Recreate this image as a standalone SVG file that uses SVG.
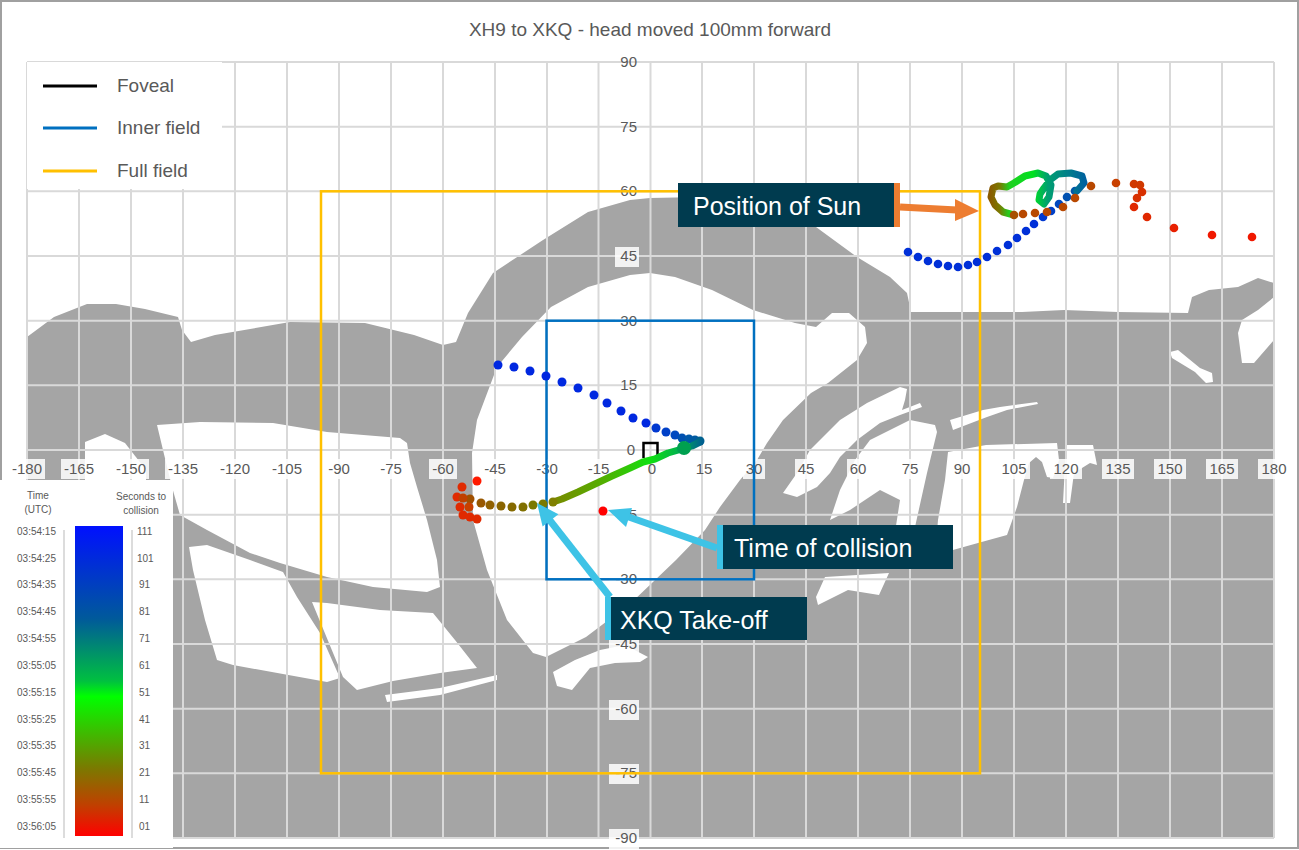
<svg xmlns="http://www.w3.org/2000/svg" width="1299" height="850" viewBox="0 0 1299 850">
<defs>
<style>
.g{stroke:#d9d9d9;stroke-width:2}
.ax{font-family:"Liberation Sans",Arial,sans-serif;font-size:15px;fill:#595959}
.lb{fill:#ffffff;opacity:0.85}
.lg{font-family:"Liberation Sans",Arial,sans-serif;font-size:19px;fill:#595959}
.co{font-family:"Liberation Sans",Arial,sans-serif;font-size:25px;fill:#ffffff}
.sm{font-family:"Liberation Sans",Arial,sans-serif;font-size:10px;fill:#595959}
.w{fill:#ffffff}
.bd{fill:#0028e0}
</style>
<linearGradient id="bar" x1="0" y1="0" x2="0" y2="1">
<stop offset="0" stop-color="#0010ff"/><stop offset="0.3" stop-color="#005a9a"/><stop offset="0.5" stop-color="#00c040"/><stop offset="0.55" stop-color="#00ff00"/><stop offset="0.78" stop-color="#7a7a00"/><stop offset="0.9" stop-color="#c04000"/><stop offset="1" stop-color="#ff0000"/>
</linearGradient>
<linearGradient id="tr1" gradientUnits="userSpaceOnUse" x1="553" y1="0" x2="702" y2="0">
<stop offset="0" stop-color="#7a8a00"/><stop offset="0.35" stop-color="#50b000"/><stop offset="0.65" stop-color="#10e010"/><stop offset="0.85" stop-color="#00b050"/><stop offset="1" stop-color="#006090"/>
</linearGradient>
<linearGradient id="tr2" gradientUnits="userSpaceOnUse" x1="990" y1="0" x2="1086" y2="0">
<stop offset="0" stop-color="#8a5a00"/><stop offset="0.1" stop-color="#7a7a00"/><stop offset="0.2" stop-color="#20d020"/><stop offset="0.45" stop-color="#00e020"/><stop offset="0.6" stop-color="#00a070"/><stop offset="1" stop-color="#0060a0"/>
</linearGradient>
</defs>
<rect x="0" y="0" width="1299" height="850" fill="#ffffff"/>
<rect x="1" y="1" width="1297" height="847" fill="none" stroke="#a0a0a0" stroke-width="2"/>
<g id="terrain">
<path fill="#a5a5a5" d="M27,337 L54,317 L87,304 L116,304 L145,309 L178,317 L182,330 L191,342 L215,335 L290,322 L365,323 L414,335 L443,345 L456,342 L468,313 L493,273 L543,240 L588,212 L630,200 L650,198 L700,197 L774,213 L816,227 L857,257 L890,277 L907,293 L911,312 L1022,312 L1064,310 L1118,312 L1188,313 L1192,297 L1209,290 L1238,287 L1258,278 L1274,283 L1274,838 L27,838 Z"/>
<path class="w" d="M477,420 L497,367 L522,337 L551,307 L588,287 L630,275 L650,273 L675,277 L712,290 L753,310 L795,323 L816,327 L832,313 L849,313 L865,327 L867,343 L857,360 L828,383 L811,393 L783,420 L767,443 L757,460 L740,480 L720,507 L705,530 L676,560 L631,603 L586,637 L546,657 L533,653 L507,620 L487,570 L473,520 L472,453 Z"/>
<path class="w" d="M157,425 L200,422 L273,423 L327,432 L400,438 L407,443 L410,463 L417,487 L427,520 L437,560 L440,587 L427,592 L373,587 L327,577 L280,563 L250,553 L207,530 L180,515 L172,487 L163,450 Z"/>
<path class="w" d="M85,442 L105,434 L125,443 L146,470 L146,480 L85,480 Z"/>
<path class="w" d="M189,547 L207,545 L250,560 L283,572 L297,597 L320,633 L340,678 L327,682 L233,665 L217,660 L205,620 L193,570 Z"/>
<path class="w" d="M312,602 L327,603 L380,610 L433,613 L455,640 L477,668 L440,673 L393,681 L357,690 L343,677 Z"/>
<path class="w" d="M385,695 L440,688 L497,675 L497,680 L440,695 L387,702 Z"/>
<path class="w" d="M553,672 L575,660 L600,650 L625,645 L648,657 L640,662 L615,663 L590,668 L572,690 L557,686 Z"/>
<path class="w" d="M810,450 L840,420 L867,403 L900,387 L907,389 L905,400 L902,410 L920,403 L922,407 L900,415 L880,423 L857,440 L840,457 L830,473 L817,487 L797,497 L783,493 L797,473 Z"/>
<path class="w" d="M870,440 L910,420 L935,425 L937,432 L927,473 L915,527 L905,555 L893,545 L900,500 L880,490 L850,510 L830,520 L840,490 L855,460 Z"/>
<path class="w" d="M948,452 L986,445 L1057,443 L1059,460 L1053,478 L1047,477 L1042,462 L1036,457 L1029,463 L1024,480 L1017,507 L1007,535 L978,543 L935,555 L938,520 L945,480 Z"/>
<path class="w" d="M1066,445 L1093,445 L1097,465 L1090,463 L1074,473 L1070,503 L1063,503 L1065,465 Z"/>
<path class="w" d="M950,420 L983,410 L1000,407 L1037,402 L1038,404 L1007,410 L987,417 L953,430 Z"/>
<path class="w" d="M825,577 L889,573 L879,595 L848,590 L818,605 L816,597 Z"/>
<path class="w" d="M1170,352 L1178,350 L1200,368 L1212,373 L1213,382 L1206,383 L1195,372 L1172,358 Z"/>
<path class="w" d="M1274,297 L1258,310 L1242,320 L1238,333 L1242,363 L1254,363 L1274,340 Z"/>
</g>
<g id="grid">
<path class="g" fill="none" d="M27,62V838 M79,62V838 M131,62V838 M183,62V838 M235,62V838 M287,62V838 M339,62V838 M391,62V838 M443,62V838 M495,62V838 M547,62V838 M598.5,62V838 M650.5,62V838 M702,62V838 M754,62V838 M806,62V838 M858,62V838 M910,62V838 M962,62V838 M1014,62V838 M1066,62V838 M1118,62V838 M1170,62V838 M1222,62V838 M1274,62V838 M27,62H1274 M27,126.7H1274 M27,191.3H1274 M27,256H1274 M27,320.7H1274 M27,385.3H1274 M27,450H1274 M27,514.7H1274 M27,579.3H1274 M27,644H1274 M27,708.7H1274 M27,773.3H1274 M27,838H1274"/>
</g>
<g id="xlabels" class="ax" text-anchor="middle">
<rect class="lb" x="9" y="459" width="36" height="20"/><text x="27" y="474">-180</text>
<rect class="lb" x="61" y="459" width="36" height="20"/><text x="79" y="474">-165</text>
<rect class="lb" x="113" y="459" width="36" height="20"/><text x="131" y="474">-150</text>
<rect class="lb" x="165" y="459" width="36" height="20"/><text x="183" y="474">-135</text>
<rect class="lb" x="217" y="459" width="36" height="20"/><text x="235" y="474">-120</text>
<rect class="lb" x="269" y="459" width="36" height="20"/><text x="287" y="474">-105</text>
<rect class="lb" x="325" y="459" width="28" height="20"/><text x="339" y="474">-90</text>
<rect class="lb" x="377" y="459" width="28" height="20"/><text x="391" y="474">-75</text>
<rect class="lb" x="429" y="459" width="28" height="20"/><text x="443" y="474">-60</text>
<rect class="lb" x="481" y="459" width="28" height="20"/><text x="495" y="474">-45</text>
<rect class="lb" x="533" y="459" width="28" height="20"/><text x="547" y="474">-30</text>
<rect class="lb" x="585" y="459" width="28" height="20"/><text x="598.5" y="474">-15</text>
<text x="652" y="474">0</text>
<text x="704" y="474">15</text>
<rect class="lb" x="743" y="459" width="22" height="20"/><text x="754" y="474">30</text>
<rect class="lb" x="795" y="459" width="22" height="20"/><text x="806" y="474">45</text>
<rect class="lb" x="847" y="459" width="22" height="20"/><text x="858" y="474">60</text>
<rect class="lb" x="899" y="459" width="22" height="20"/><text x="910" y="474">75</text>
<rect class="lb" x="951" y="459" width="22" height="20"/><text x="962" y="474">90</text>
<rect class="lb" x="998" y="459" width="32" height="20"/><text x="1014" y="474">105</text>
<rect class="lb" x="1050" y="459" width="32" height="20"/><text x="1066" y="474">120</text>
<rect class="lb" x="1102" y="459" width="32" height="20"/><text x="1118" y="474">135</text>
<rect class="lb" x="1154" y="459" width="32" height="20"/><text x="1170" y="474">150</text>
<rect class="lb" x="1206" y="459" width="32" height="20"/><text x="1222" y="474">165</text>
<rect class="lb" x="1258" y="459" width="32" height="20"/><text x="1274" y="474">180</text>
</g>
<g id="ylabels" class="ax" text-anchor="end">
<text x="637" y="67">90</text>
<text x="637" y="132">75</text>
<text x="637" y="196">60</text>
<rect class="lb" x="615" y="247" width="24" height="20"/><text x="637" y="261">45</text>
<rect class="lb" x="615" y="312" width="24" height="20"/><text x="637" y="326">30</text>
<text x="637" y="390">15</text>
<text x="635" y="455">0</text>
<text x="637" y="520">-15</text>
<rect class="lb" x="609" y="570" width="30" height="20"/><text x="637" y="584">-30</text>
<rect class="lb" x="609" y="635" width="30" height="20"/><text x="637" y="649">-45</text>
<rect class="lb" x="609" y="700" width="30" height="20"/><text x="637" y="714">-60</text>
<rect class="lb" x="609" y="764" width="30" height="20"/><text x="637" y="778">-75</text>
<rect class="lb" x="609" y="829" width="30" height="20"/><text x="637" y="843">-90</text>
</g>
<g id="fields" fill="none">
<rect id="full-field" x="321" y="191.3" width="659" height="582" stroke="#ffc000" stroke-width="2.5"/>
<rect id="inner-field" x="546.5" y="320.7" width="207.5" height="258.6" stroke="#0070c0" stroke-width="2.5"/>
<path id="foveal" d="M643.5,458 V443 H657.5 V458" stroke="#000000" stroke-width="2.5"/>
</g>
<g id="legend">
<rect x="27" y="62" width="195" height="127" fill="#ffffff"/>
<line x1="43" y1="86" x2="97" y2="86" stroke="#000000" stroke-width="3"/>
<text class="lg" x="117" y="92">Foveal</text>
<line x1="43" y1="128" x2="97" y2="128" stroke="#0070c0" stroke-width="3"/>
<text class="lg" x="117" y="134">Inner field</text>
<line x1="43" y1="171" x2="97" y2="171" stroke="#ffc000" stroke-width="3"/>
<text class="lg" x="117" y="177">Full field</text>
</g>
<text x="650" y="36" text-anchor="middle" font-family="Liberation Sans, Arial, sans-serif" font-size="19" fill="#595959">XH9 to XKQ - head moved 100mm forward</text>
<g id="colorbar">
<rect x="0" y="480" width="173" height="368" fill="#ffffff"/>
<rect x="75" y="526" width="48" height="310" fill="url(#bar)"/>
<line x1="64" y1="530" x2="64" y2="838" stroke="#d0d0d0" stroke-width="1.5"/>
<line x1="132" y1="530" x2="132" y2="838" stroke="#d0d0d0" stroke-width="1.5"/>
<text class="sm" x="38" y="499" text-anchor="middle">Time</text>
<text class="sm" x="38" y="513" text-anchor="middle">(UTC)</text>
<text class="sm" x="141" y="500" text-anchor="middle">Seconds to</text>
<text class="sm" x="141" y="514" text-anchor="middle">collision</text>
<g class="sm" text-anchor="end">
<text x="56" y="535">03:54:15</text><text x="56" y="562">03:54:25</text><text x="56" y="588">03:54:35</text><text x="56" y="615">03:54:45</text><text x="56" y="642">03:54:55</text><text x="56" y="669">03:55:05</text><text x="56" y="696">03:55:15</text><text x="56" y="723">03:55:25</text><text x="56" y="749">03:55:35</text><text x="56" y="776">03:55:45</text><text x="56" y="803">03:55:55</text><text x="56" y="830">03:56:05</text>
</g>
<g class="sm">
<text x="137" y="535">111</text><text x="137" y="562">101</text><text x="139" y="588">91</text><text x="139" y="615">81</text><text x="139" y="642">71</text><text x="139" y="669">61</text><text x="139" y="696">51</text><text x="139" y="723">41</text><text x="139" y="749">31</text><text x="139" y="776">21</text><text x="139" y="803">11</text><text x="139" y="830">01</text>
</g>
</g>
<g id="trajectory-xkq">
<g fill="#0028e0">
<circle cx="498" cy="365" r="4.5"/><circle cx="514" cy="367" r="4.5"/><circle cx="530" cy="371" r="4.5"/><circle cx="546" cy="376" r="4.5"/><circle cx="562" cy="382" r="4.5"/><circle cx="578" cy="388" r="4.5"/><circle cx="594" cy="395" r="4.5"/><circle cx="607" cy="403" r="4.5"/><circle cx="621" cy="411" r="4.5"/><circle cx="633" cy="418" r="4.5"/><circle cx="646" cy="423" r="4.5"/><circle cx="656" cy="428" r="4.5" fill="#0038d0"/><circle cx="666" cy="432" r="4.5" fill="#0040c8"/><circle cx="675" cy="435" r="4.5" fill="#0048c0"/><circle cx="682" cy="438" r="4.5" fill="#0050b0"/><circle cx="689" cy="439" r="4.5" fill="#0058a8"/><circle cx="695" cy="440" r="4.5" fill="#005aa0"/><circle cx="700" cy="441" r="4.5" fill="#006090"/>
</g>
<path d="M700,442 L692,446 L682,449 L668,453 L655,459 L643,462 L630,468 L612,476 L595,484 L578,492 L562,499 L553,502" fill="none" stroke="url(#tr1)" stroke-width="7" stroke-linecap="round" stroke-linejoin="round"/>
<circle cx="684" cy="448" r="7" fill="#00a050"/>
<g fill="#7a7a00">
<circle cx="553" cy="502" r="4.5" fill="#808000"/><circle cx="543" cy="504" r="4.5"/><circle cx="533" cy="505" r="4.5"/><circle cx="523" cy="507" r="4.5" fill="#807000"/><circle cx="512" cy="507" r="4.5" fill="#856a00"/><circle cx="501" cy="506" r="4.5" fill="#8a6500"/><circle cx="490" cy="505" r="4.5" fill="#906000"/><circle cx="481" cy="503" r="4.5" fill="#985800"/><circle cx="470" cy="499" r="4.5" fill="#a05000"/>
</g>
<g fill="#e02a00">
<circle cx="477" cy="481" r="4.5" fill="#ff1a00"/><circle cx="462" cy="487" r="4.5"/><circle cx="457" cy="497" r="4.5"/><circle cx="463" cy="498" r="4.5" fill="#c04000"/><circle cx="469" cy="507" r="4.5" fill="#c84000"/><circle cx="460" cy="507" r="4.5"/><circle cx="463" cy="515" r="4.5"/><circle cx="470" cy="517" r="4.5"/><circle cx="477" cy="519" r="4.5"/><circle cx="603" cy="511" r="4.5" fill="#ff0000"/>
</g>
</g>
<g id="trajectory-sun">
<g fill="#0030d8">
<circle cx="908" cy="252" r="4.3"/><circle cx="918" cy="257" r="4.3"/><circle cx="928" cy="261" r="4.3"/><circle cx="938" cy="264" r="4.3"/><circle cx="948" cy="266" r="4.3"/><circle cx="958" cy="267" r="4.3"/><circle cx="968" cy="265" r="4.3"/><circle cx="977" cy="262" r="4.3"/><circle cx="987" cy="257" r="4.3"/><circle cx="997" cy="251" r="4.3"/><circle cx="1008" cy="245" r="4.3"/><circle cx="1017" cy="238" r="4.3"/><circle cx="1026" cy="231" r="4.3"/><circle cx="1034" cy="224" r="4.3"/><circle cx="1043" cy="217" r="4.3" fill="#0038d0"/><circle cx="1051" cy="211" r="4.3" fill="#0040c8"/><circle cx="1059" cy="204" r="4.3" fill="#0048c0"/><circle cx="1067" cy="197" r="4.3" fill="#0050b0"/><circle cx="1075" cy="191" r="4.3" fill="#0058a8"/>
</g>
<path d="M1077,191 L1084,183 L1082,176 L1071,173 L1058,174 L1050,180 L1044,188 L1040,194 L1039,200 L1044,204 L1049,197 L1051,185 L1046,176 L1038,173 L1025,176 L1014,183 L1007,187 L998,186 L993,188 L991,197 L995,205 L1003,212 L1014,215" fill="none" stroke="url(#tr2)" stroke-width="7" stroke-linecap="round" stroke-linejoin="round"/>
<g fill="#b84800">
<circle cx="1014" cy="215" r="4.3" fill="#a85000"/><circle cx="1023" cy="214" r="4.3"/><circle cx="1035" cy="213" r="4.3"/><circle cx="1047" cy="212" r="4.3"/><circle cx="1063" cy="207" r="4.3"/><circle cx="1075" cy="198" r="4.3"/><circle cx="1091" cy="186" r="4.3"/><circle cx="1116" cy="183" r="4.3" fill="#c84000"/><circle cx="1134" cy="184" r="4.3" fill="#d03800"/><circle cx="1140" cy="185" r="4.3" fill="#d03800"/><circle cx="1142" cy="192" r="4.3" fill="#d83000"/><circle cx="1137" cy="198" r="4.3" fill="#d83000"/><circle cx="1134" cy="207" r="4.3" fill="#e02800"/><circle cx="1147" cy="217" r="4.3" fill="#e02800"/><circle cx="1174" cy="228" r="4.3" fill="#e82000"/><circle cx="1212" cy="235" r="4.3" fill="#f01800"/><circle cx="1252" cy="237" r="4.3" fill="#f01800"/>
</g>
</g>
<g id="connectors">
<line x1="900" y1="207" x2="957" y2="210" stroke="#ed7d31" stroke-width="7"/>
<polygon points="955,199 979,211 955,221" fill="#ed7d31"/>
<line x1="717" y1="548" x2="626" y2="516" stroke="#3ec3e6" stroke-width="7"/>
<polygon points="608,510 632,508 626,527" fill="#3ec3e6"/>
<line x1="610" y1="597" x2="548" y2="518" stroke="#3ec3e6" stroke-width="7"/>
<polygon points="537,503 558.4,514.3 542.6,526.5" fill="#3ec3e6"/>
</g>
<g id="callout-sun">
<rect x="678" y="183" width="217" height="44" fill="#003b4f"/>
<rect x="894" y="183" width="6" height="44" fill="#ed7d31"/>
<text class="co" x="693" y="215">Position of Sun</text>
</g>
<g id="callout-collision">
<rect x="717" y="525" width="236" height="44" fill="#003b4f"/>
<rect x="717" y="525" width="6" height="44" fill="#3ec3e6"/>
<text class="co" x="734" y="557">Time of collision</text>
</g>
<g id="callout-takeoff">
<rect x="605" y="597" width="202" height="43" fill="#003b4f"/>
<rect x="605" y="597" width="6" height="43" fill="#3ec3e6"/>
<text class="co" x="620" y="629">XKQ Take-off</text>
</g>
</svg>
